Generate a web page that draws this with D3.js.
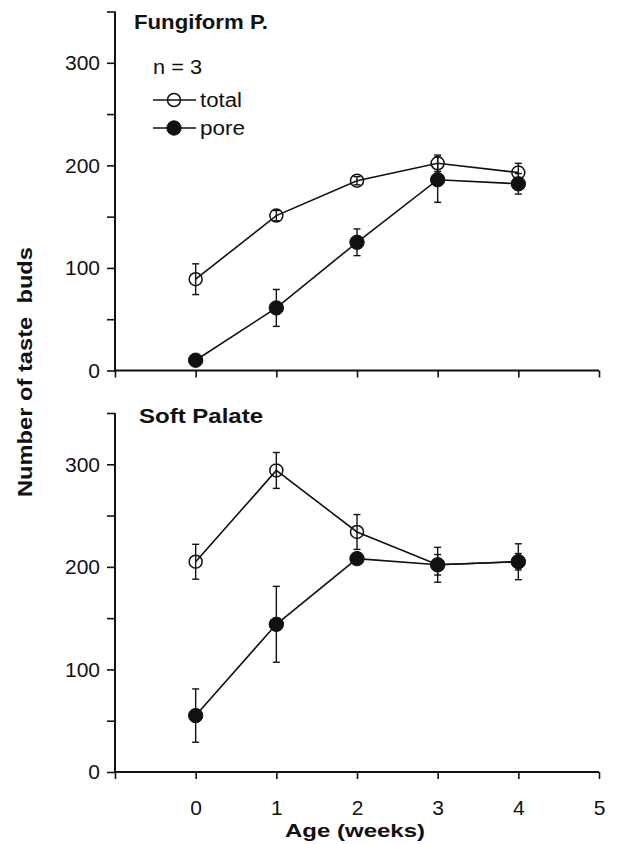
<!DOCTYPE html>
<html>
<head>
<meta charset="utf-8">
<script src="https://cdn.jsdelivr.net/npm/d3@7"></script>
<style>
  html, body { margin: 0; padding: 0; background: #fff; }
  svg { display: block; }
  text { font-family: "Liberation Sans", Arial, Helvetica, sans-serif; fill: #111; }
</style>
</head>
<body>
<svg id="chart" width="618" height="844"></svg>
<script>
// Age in weeks
const weeks = [0, 1, 2, 3, 4];
const xTicks = [-1, 0, 1, 2, 3, 4, 5];
const xTickLabels = ["", "0", "1", "2", "3", "4", "5"];
const yTicks = [0, 50, 100, 150, 200, 250, 300, 350];
const yTickLabels = ["0", "", "100", "", "200", "", "300", ""];

// Fungiform papillae: mean and error
const fungiformTotal = [89, 151, 185, 202, 193];
const fungiformTotalErr = [15, 5, 4, 8, 9];
const fungiformPore = [10, 61, 125, 186, 182];
const fungiformPoreErr = [2, 18, 13, 22, 10];

// Soft palate: mean and error
const palateTotal = [205, 294, 234, 202, 205];
const palateTotalErr = [17, 17.5, 17, 17, 17.5];
const palatePore = [55, 144, 208, 202, 205];
const palatePoreErr = [26, 37, 5, 10, 8];

const svg = d3.select("#chart");
const ink = "#111";

const x = d3.scaleLinear().domain([-1, 5]).range([115, 599]);

const panels = [
  { title: "Fungiform P.", titleW: 134, titleX: 134, titleY: 29,
    y: d3.scaleLinear().domain([0, 350]).range([370.5, 11.5]),
    total: fungiformTotal, totalErr: fungiformTotalErr,
    pore: fungiformPore, poreErr: fungiformPoreErr, xLabels: false },
  { title: "Soft Palate", titleW: 124, titleX: 139, titleY: 423,
    y: d3.scaleLinear().domain([0, 350]).range([772, 413]),
    total: palateTotal, totalErr: palateTotalErr,
    pore: palatePore, poreErr: palatePoreErr, xLabels: true }
];

panels.forEach(p => {
  const g = svg.append("g");
  const y = p.y;

  // y axis: ticks every 50, labels every 100
  const yAxis = d3.axisLeft(y).tickValues(yTicks)
    .tickFormat((d, i) => yTickLabels[i]).tickSize(8).tickPadding(7);
  const ya = g.append("g").attr("transform", `translate(${x(-1)},0)`).call(yAxis);
  ya.select(".domain").remove();
  ya.append("line").attr("x1", 0).attr("x2", 0)
    .attr("y1", y(0) + 1).attr("y2", y(350)).attr("stroke", ink).attr("stroke-width", 2);
  ya.selectAll(".tick line").attr("stroke", ink).attr("stroke-width", 1.6);
  ya.selectAll(".tick text").attr("font-size", 21).attr("fill", ink)
    .style("font-family", '"Liberation Sans", Arial, sans-serif');

  // x axis: labels only on the lower panel
  const xAxis = d3.axisBottom(x).tickValues(xTicks)
    .tickFormat((d, i) => p.xLabels ? xTickLabels[i] : "").tickSize(7).tickPadding(21);
  const xa = g.append("g").attr("transform", `translate(0,${y(0)})`).call(xAxis);
  xa.select(".domain").remove();
  xa.append("line").attr("x1", x(-1) - 1).attr("x2", x(5))
    .attr("y1", 0).attr("y2", 0).attr("stroke", ink).attr("stroke-width", 2);
  xa.selectAll(".tick line").attr("stroke", ink).attr("stroke-width", 1.6);
  xa.selectAll(".tick text").attr("font-size", 21).attr("fill", ink)
    .style("font-family", '"Liberation Sans", Arial, sans-serif');

  // panel title
  g.append("text").attr("x", p.titleX).attr("y", p.titleY)
    .attr("font-size", 20).attr("font-weight", "bold")
    .attr("textLength", p.titleW).attr("lengthAdjust", "spacingAndGlyphs")
    .text(p.title);

  const line = d3.line().x((d, i) => x(weeks[i])).y(d => y(d));

  // connecting line plus capped error bars
  const drawSeries = (vals, errs) => {
    g.append("path").datum(vals).attr("d", line)
      .attr("fill", "none").attr("stroke", ink).attr("stroke-width", 1.6);
    const eb = g.append("g");
    vals.forEach((v, i) => {
      const cx = x(weeks[i]);
      const y1 = y(v + errs[i]), y2 = y(v - errs[i]);
      eb.append("line").attr("x1", cx).attr("x2", cx).attr("y1", y1).attr("y2", y2)
        .attr("stroke", ink).attr("stroke-width", 1.4);
      [y1, y2].forEach(yy => eb.append("line").attr("x1", cx - 3.5).attr("x2", cx + 3.5)
        .attr("y1", yy).attr("y2", yy).attr("stroke", ink).attr("stroke-width", 1.4));
    });
  };

  const drawMarkers = (vals, filled) => {
    g.append("g").selectAll("circle").data(vals).join("circle")
      .attr("cx", (d, i) => x(weeks[i])).attr("cy", d => y(d))
      .attr("r", filled ? 7.2 : 6.5)
      .attr("fill", filled ? ink : "none")
      .attr("stroke", ink).attr("stroke-width", filled ? 1 : 1.5);
  };

  drawSeries(p.total, p.totalErr);
  drawSeries(p.pore, p.poreErr);
  drawMarkers(p.total, false);
  drawMarkers(p.pore, true);
});

// legend
const legend = svg.append("g");
legend.append("text").attr("x", 153).attr("y", 74).attr("font-size", 20)
  .attr("textLength", 49).attr("lengthAdjust", "spacingAndGlyphs").text("n = 3");
[{ label: "total", y: 100, filled: false, w: 42 },
 { label: "pore", y: 128, filled: true, w: 45 }].forEach(d => {
  legend.append("line").attr("x1", 153).attr("x2", 196).attr("y1", d.y).attr("y2", d.y)
    .attr("stroke", ink).attr("stroke-width", 1.6);
  legend.append("circle").attr("cx", 174).attr("cy", d.y).attr("r", d.filled ? 7.2 : 6.5)
    .attr("fill", d.filled ? ink : "none").attr("stroke", ink)
    .attr("stroke-width", d.filled ? 1 : 1.5);
  legend.append("text").attr("x", 200).attr("y", d.y + 7).attr("font-size", 20)
    .attr("textLength", d.w).attr("lengthAdjust", "spacingAndGlyphs").text(d.label);
});

// axis titles
svg.append("text").attr("x", 355).attr("y", 837).attr("text-anchor", "middle")
  .attr("font-size", 19).attr("font-weight", "bold")
  .attr("textLength", 140).attr("lengthAdjust", "spacingAndGlyphs")
  .text("Age (weeks)");
svg.append("text").attr("transform", "translate(32,372) rotate(-90)")
  .attr("text-anchor", "middle").attr("font-size", 19.5).attr("font-weight", "bold")
  .attr("textLength", 250).attr("lengthAdjust", "spacingAndGlyphs")
  .style("white-space", "pre")
  .text("Number of taste  buds");
</script>
</body>
</html>
